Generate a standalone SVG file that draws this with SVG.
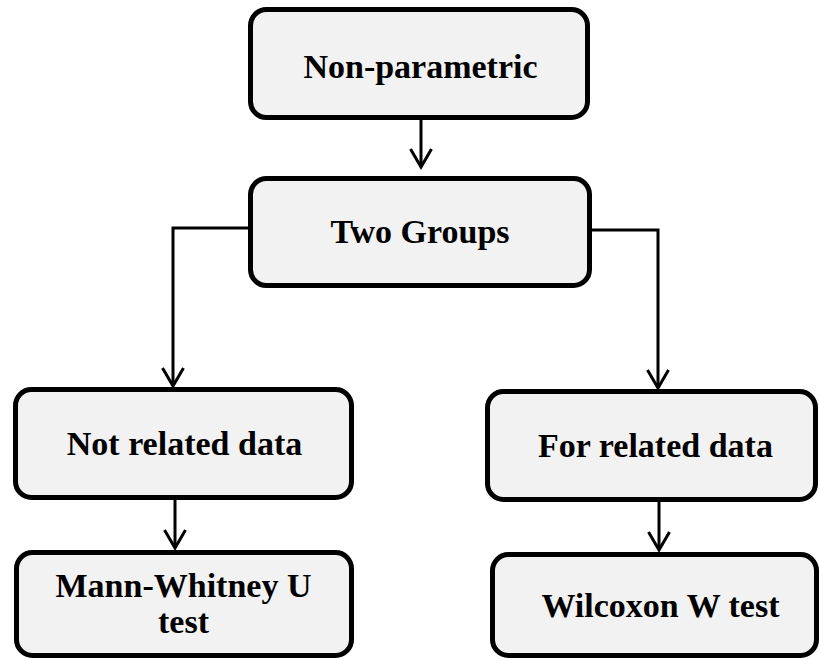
<svg xmlns="http://www.w3.org/2000/svg" width="819" height="659" viewBox="0 0 819 659">
  <style>
    .box { fill: #f2f2f2; stroke: #000; stroke-width: 5; }
    .lbl { font-family: "Liberation Serif", "Times New Roman", serif; font-weight: bold; font-size: 34px; fill: #000; text-anchor: middle; }
    .wire { fill: none; stroke: #000; stroke-width: 3; marker-end: url(#arrow); }
  </style>
  <defs>
    <marker id="arrow" markerUnits="userSpaceOnUse" markerWidth="24" markerHeight="26" viewBox="-20 -13 24 26" refX="0" refY="0" orient="auto">
      <path d="M-18,-10.5 L0,0 L-18,10.5" fill="none" stroke="#000" stroke-width="3"/>
    </marker>
  </defs>
  <rect width="819" height="659" fill="#fff"/>

  <g id="connectors">
    <path class="wire" d="M421,120 V167"/>
    <path class="wire" d="M248,228 H173 V386"/>
    <path class="wire" d="M592,230 H658 V388"/>
    <path class="wire" d="M175,500 V548"/>
    <path class="wire" d="M659,502 V550"/>
  </g>

  <g id="non-parametric">
    <rect class="box" x="250.5" y="9.5" width="337" height="108" rx="16"/>
    <text class="lbl" x="420.5" y="78">Non-parametric</text>
  </g>
  <g id="two-groups">
    <rect class="box" x="250.5" y="178.5" width="339" height="107" rx="16"/>
    <text class="lbl" x="420" y="243">Two Groups</text>
  </g>
  <g id="not-related">
    <rect class="box" x="15.5" y="389.5" width="336" height="108" rx="16"/>
    <text class="lbl" x="184.5" y="455">Not related data</text>
  </g>
  <g id="for-related">
    <rect class="box" x="487.5" y="391.5" width="328" height="108" rx="16"/>
    <text class="lbl" x="655.5" y="457">For related data</text>
  </g>
  <g id="mann-whitney">
    <rect class="box" x="16.5" y="552.5" width="335" height="103" rx="16"/>
    <text class="lbl" x="183.5" y="597">Mann-Whitney U</text>
    <text class="lbl" x="183.5" y="633">test</text>
  </g>
  <g id="wilcoxon">
    <rect class="box" x="492.5" y="554.5" width="324" height="101" rx="16"/>
    <text class="lbl" x="660.5" y="617">Wilcoxon W test</text>
  </g>
</svg>
